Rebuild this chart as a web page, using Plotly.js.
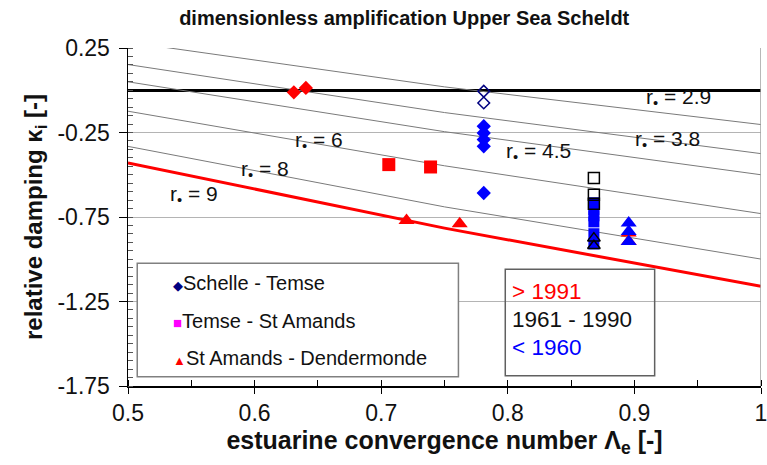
<!DOCTYPE html>
<html><head><meta charset="utf-8">
<script src="https://cdn.plot.ly/plotly-3.0.1.min.js"></script>
<style>html,body{margin:0;padding:0;background:#fff}</style>
</head><body><div id="chart" style="width:767px;height:465px"></div>
<script>
// ---- data ----
const curveX = [0.5, 0.75, 1.0];
const curveR29 = [0.285, 0.02, -0.203];
const curveR38 = [0.152, -0.132, -0.375];
const curveR45 = [0.05, -0.245, -0.5];
const curveR60 = [-0.124, -0.447, -0.73];
const curveR80 = [-0.332, -0.69, -0.999];
const curveR90 = [-0.43, -0.816, -1.16];
const rValues = ['2.9', '3.8', '4.5', '6', '8', '9'];

const schelleRecentX = [0.631, 0.6405];
const schelleRecentY = [-0.012, 0.014];
const schelleMidX = [0.781, 0.781];
const schelleMidY = [-0.006, -0.075];
const schelleOldX = [0.781, 0.781, 0.781, 0.781, 0.781];
const schelleOldY = [-0.213, -0.253, -0.292, -0.332, -0.608];

const temseRecentX = [0.706, 0.739];
const temseRecentY = [-0.44, -0.454];
const temseOldX = [0.868, 0.868, 0.868, 0.868, 0.868, 0.868];
const temseOldY = [-0.666, -0.707, -0.743, -0.779, -0.849, -0.909];
const temseMidX = [0.868, 0.868, 0.868];
const temseMidY = [-0.519, -0.618, -0.671];

const amandsRecentX = [0.72, 0.762, 0.8955, 0.8955];
const amandsRecentY = [-0.77, -0.79, -0.845, -0.895];
const amandsOldX = [0.8955, 0.8955, 0.8955];
const amandsOldY = [-0.786, -0.836, -0.895];
const amandsMidX = [0.868, 0.868];
const amandsMidY = [-0.875, -0.92];

const sectionNames = ['Schelle - Temse', 'Temse - St Amands', 'St Amands - Dendermonde'];
const periodNames = ['> 1991', '1961 - 1990', '< 1960'];

const xTickVals = [0.5, 0.6, 0.7, 0.8, 0.9, 1];
const xTickText = ['0.5', '0.6', '0.7', '0.8', '0.9', '1'];
const yTickVals = [0.25, -0.25, -0.75, -1.25, -1.75];
const yTickText = ['0.25', '-0.25', '-0.75', '-1.25', '-1.75'];

// ---- styles ----
const FONT = 'Liberation Sans, Arial, Helvetica, sans-serif';
const RED = '#ff0000', BLUE = '#0000ff', NAVY = '#000080', BLK = '#000000';
const esc = s => s.replace(/&/g,'&amp;').replace(/</g,'&lt;').replace(/>/g,'&gt;');

const thin = {color: '#7a7a7a', width: 1};
const curves = [curveR29, curveR38, curveR45, curveR60, curveR80];
const traces = curves.map(cy => ({x: curveX, y: cy, mode: 'lines', line: thin, hoverinfo: 'skip', showlegend: false}));
traces.push({x: curveX, y: curveR90, mode: 'lines', line: {color: RED, width: 3}, showlegend: false});

function pts(x, y, symbol, color, size, open) {
  return {x, y, mode: 'markers', showlegend: false,
    marker: {symbol: symbol, size: size, color: color,
             line: {color: color, width: open ? 1.5 : 0}}};
}
traces.push(pts(schelleRecentX, schelleRecentY, 'diamond', RED, 11, false));
traces.push(pts(schelleMidX, schelleMidY, 'diamond-open', NAVY, 9, true));
traces.push(pts(schelleOldX, schelleOldY, 'diamond', BLUE, 11, false));
traces.push(pts(temseRecentX, temseRecentY, 'square', RED, 13, false));
traces.push(pts(temseOldX, temseOldY, 'square', BLUE, 11, false));
traces.push(pts(temseMidX, temseMidY, 'square-open', BLK, 11, true));
traces.push(pts(amandsRecentX, amandsRecentY, 'triangle-up', RED, 14, false));
traces.push(pts(amandsOldX, amandsOldY, 'triangle-up', BLUE, 14, false));
traces.push(pts(amandsMidX, amandsMidY, 'triangle-up-open', BLK, 11, true));

// r labels (positions are layout)
const rLabelPos = [[0.9345, -0.045], [0.926, -0.296], [0.824, -0.363], [0.651, -0.298], [0.608, -0.47], [0.552, -0.618]];
const annotations = rValues.map((v, i) => ({
  x: rLabelPos[i][0], y: rLabelPos[i][1], xref: 'x', yref: 'y', showarrow: false,
  text: 'r<sub>•</sub> = ' + v, font: {family: FONT, size: 21, color: '#111'}
}));

const legSym = [['◆', NAVY, 13], ['■', '#ff00ff', 15], ['▲', RED, 13]];
const legY = [-1.138, -1.363, -1.586];
sectionNames.forEach((n, i) => annotations.push({
  x: 0.5338, y: legY[i], xref: 'x', yref: 'y', xanchor: 'left', showarrow: false,
  text: '<span style="color:' + legSym[i][1] + ';font-size:' + legSym[i][2] + 'px">' + legSym[i][0] + '</span>' + esc(n),
  font: {family: FONT, size: 20, color: '#111'}
}));
const perColors = [RED, '#111111', BLUE];
const perY = [-1.191, -1.359, -1.521];
periodNames.forEach((n, i) => annotations.push({
  x: 0.8017, y: perY[i], xref: 'x', yref: 'y', xanchor: 'left', showarrow: false,
  text: esc(n), font: {family: FONT, size: 22.5, color: perColors[i]}
}));

const layout = {
  width: 767, height: 465,
  margin: {l: 128, r: 6, t: 48, b: 79},
  paper_bgcolor: '#fff', plot_bgcolor: '#fff',
  font: {family: FONT, color: '#111'},
  showlegend: false,
  title: {text: '<b>dimensionless amplification Upper Sea Scheldt</b>', font: {family: FONT, size: 20, color: '#111'},
          xref: 'container', yref: 'container', x: 0.527, y: 0.962, xanchor: 'center', yanchor: 'middle'},
  xaxis: {range: [0.5, 1], tickmode: 'array', tickvals: xTickVals, ticktext: xTickText,
          ticks: 'outside', ticklen: 6, tickcolor: '#000', tickwidth: 1, ticklabeloverflow: 'allow',
          showline: true, linecolor: '#000', linewidth: 1.5, showgrid: false, zeroline: false,
          tickfont: {family: FONT, size: 23, color: '#111'},
          minor: {tickmode: 'linear', tick0: 0.5, dtick: 0.05, ticks: 'inside', ticklen: 6, tickcolor: '#000', showgrid: false},
          title: {text: '<b>estuarine convergence number Λ<sub>e</sub> [-]</b>', font: {family: FONT, size: 25, color: '#111'}, standoff: 6}},
  yaxis: {range: [-1.75, 0.25], tickmode: 'array', tickvals: yTickVals, ticktext: yTickText,
          ticks: 'outside', ticklen: 8, tickcolor: '#000', tickwidth: 1, ticklabelstandoff: 4,
          showline: true, linecolor: '#000', linewidth: 1.5,
          showgrid: true, gridcolor: '#b4b4b4', gridwidth: 1,
          zeroline: true, zerolinecolor: '#000', zerolinewidth: 3,
          tickfont: {family: FONT, size: 23, color: '#111'},
          minor: {tickmode: 'linear', tick0: 0.25, dtick: 0.05, ticks: 'inside', ticklen: 5, tickcolor: '#555', showgrid: false},
          title: {text: '<b>relative damping κ<sub>i</sub> [-]</b>', font: {family: FONT, size: 24, color: '#111'}, standoff: 8}},
  shapes: [
    {type: 'line', xref: 'x', yref: 'paper', x0: 1, x1: 1, y0: 0, y1: 1, line: {color: '#a0a0a0', width: 1.5}},
    {type: 'rect', xref: 'x', yref: 'y', x0: 0.5073, x1: 0.761, y0: -1.023, y1: -1.695,
     line: {color: '#808080', width: 1.5}, fillcolor: '#ffffff', layer: 'above'},
    {type: 'rect', xref: 'x', yref: 'y', x0: 0.798, x1: 0.916, y0: -1.059, y1: -1.69,
     line: {color: '#606060', width: 1.5}, fillcolor: 'rgba(0,0,0,0)', layer: 'above'}
  ],
  annotations: annotations
};

Plotly.newPlot('chart', traces, layout, {staticPlot: true, displayModeBar: false});
</script>
</body></html>
